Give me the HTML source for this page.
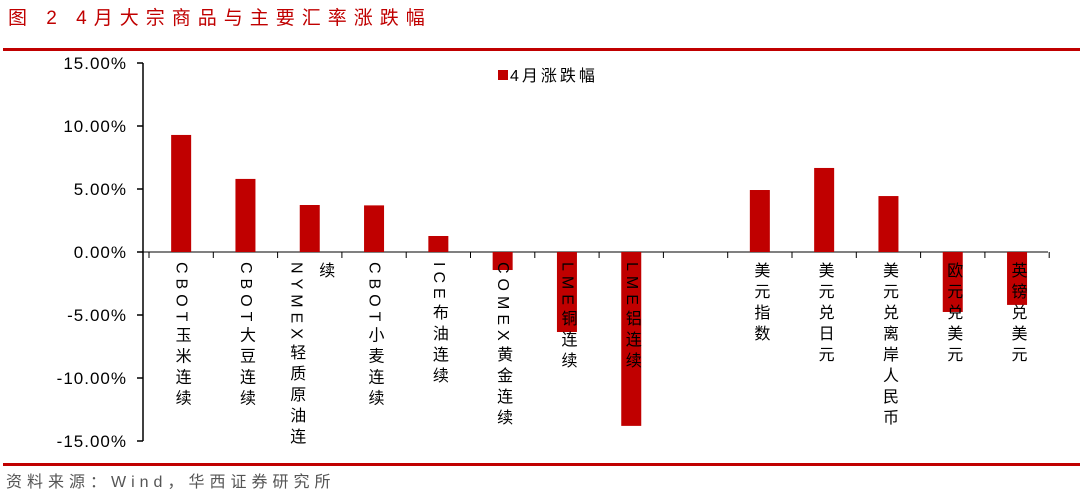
<!DOCTYPE html>
<html><head><meta charset="utf-8"><style>
body{margin:0;background:#fff;width:1080px;height:498px;overflow:hidden;font-family:"Liberation Sans","Noto Sans CJK SC",sans-serif}
svg{position:absolute;left:0;top:0}
</style></head><body>
<svg id="c" width="1080" height="498"></svg>
<script>
const categories=["CBOT玉米连续","CBOT大豆连续","NYMEX轻质原油连|续","CBOT小麦连续","ICE布油连续","COMEX黄金连续","LME铜连续","LME铝连续","","美元指数","美元兑日元","美元兑离岸人民币","欧元兑美元","英镑兑美元"];
const values=[9.29,5.8,3.73,3.7,1.27,-1.43,-6.35,-13.8,null,4.92,6.67,4.44,-4.76,-4.2];
const ticks=[15,10,5,0,-5,-10,-15];
const tickLabels=["15.00%","10.00%","5.00%","0.00%","-5.00%","-10.00%","-15.00%"];
const NS="http://www.w3.org/2000/svg",svg=document.getElementById('c');
const x0=149,step=64.3,yZero=252,k=12.6;
const X=i=>x0+step*(i+0.5),Y=v=>yZero-v*k;
function mk(t,a,p){const e=document.createElementNS(NS,t);for(const n in a)e.setAttribute(n,a[n]);(p||svg).appendChild(e);return e;}
let e;
e=mk('text',{x:8,y:24,fill:'#c00000','font-size':19,'letter-spacing':'7'});e.textContent="图 2 4月大宗商品与主要汇率涨跌幅";

e=mk('rect',{x:3,y:48,width:1077,height:3,fill:'#c00000'});

e=mk('rect',{x:3,y:463,width:1077,height:3,fill:'#c00000'});

e=mk('text',{x:6,y:487,fill:'#555','font-size':16,'letter-spacing':'5'});e.textContent="资料来源：Wind，华西证券研究所";

e=mk('line',{x1:143,y1:Y(15),x2:143,y2:Y(-15),stroke:'#000','stroke-width':1.5});

ticks.forEach((t,i)=>{
 e=mk('line',{x1:137,y1:Y(t),x2:143,y2:Y(t),stroke:'#000','stroke-width':1.5});
 
 e=mk('text',{x:127,y:Y(t)+6,'text-anchor':'end','font-size':17,fill:'#000','letter-spacing':'1'});e.textContent=tickLabels[i];
 
});
e=mk('line',{x1:143,y1:yZero,x2:1048,y2:yZero,stroke:'#000','stroke-width':1});

for(let i=0;i<=categories.length;i++){
 e=mk('line',{x1:x0+step*i,y1:yZero,x2:x0+step*i,y2:yZero+6,stroke:'#000','stroke-width':1});
 
}
values.forEach((v,i)=>{
 if(v===null)return;
 const y1=Y(Math.max(v,0)),y2=Y(Math.min(v,0));
 e=mk('rect',{x:X(i)-10,y:y1,width:20,height:y2-y1,fill:'#c00000'});
 
});
categories.forEach((c,i)=>{
 if(!c)return;
 c.split('|').forEach((part,j)=>{
  e=mk('text',{x:X(i)-(c.includes('|')?14:0)+j*29,y:262,'font-size':16,fill:'#000',style:'writing-mode:vertical-rl;letter-spacing:5px'});
  e.textContent=part;
  
 });
});
e=mk('rect',{x:498,y:70,width:10,height:10,fill:'#c00000'});

e=mk('text',{x:510,y:81,'font-size':16,fill:'#000','letter-spacing':'3'});e.textContent="4月涨跌幅";

</script>
</body></html>
